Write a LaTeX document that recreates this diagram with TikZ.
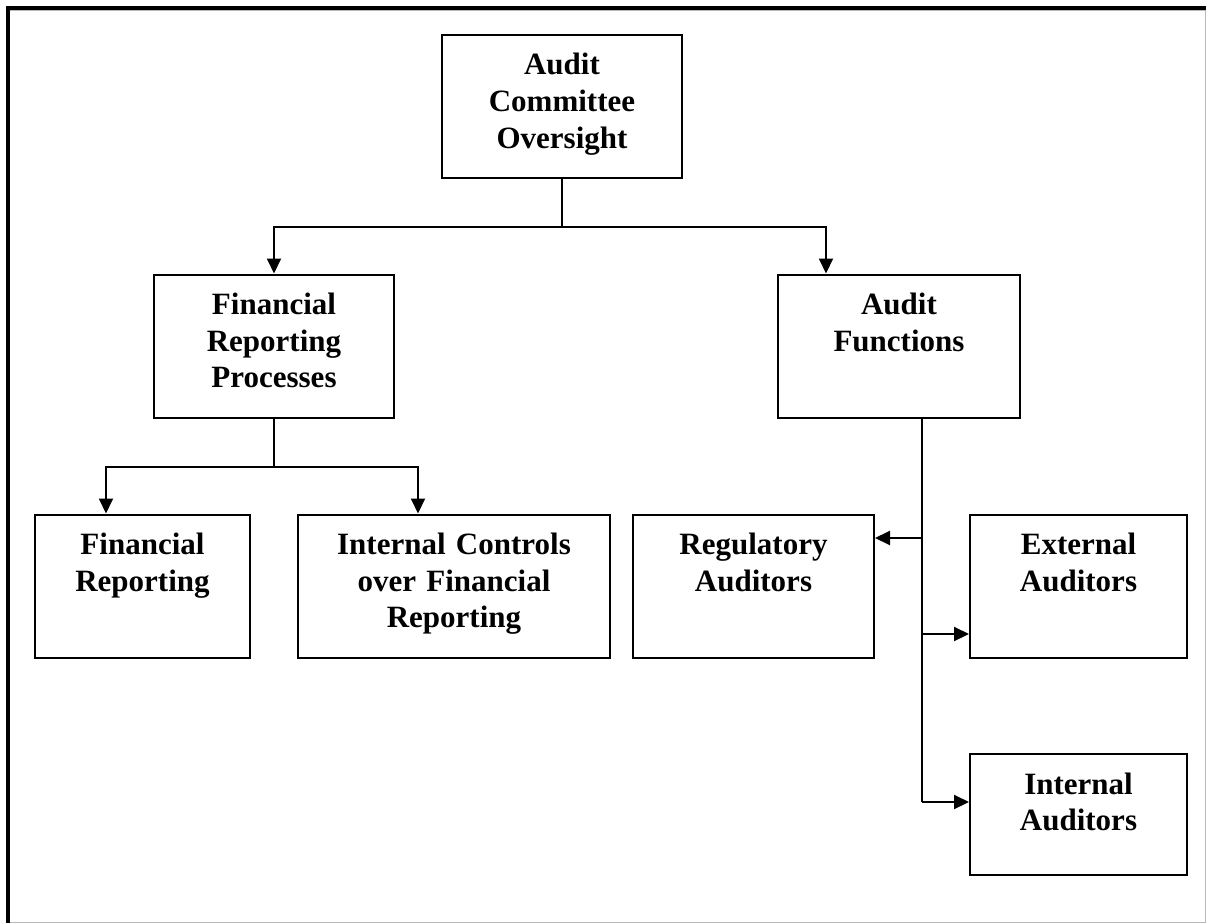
\documentclass[tikz,border=0pt]{standalone}
\usepackage{fontspec}
\setmainfont{Liberation Serif}
\usetikzlibrary{arrows.meta}
\tikzset{
  box/.style={draw,line width=2pt,align=center,inner sep=0pt,
    text height=40pt,text depth=103pt,
    font=\fontsize{31}{36.6}\selectfont\bfseries},
  shortbox/.style={box,text depth=81pt},
  link/.style={line width=2pt},
  arr/.style={line width=2pt,-{Triangle[length=15pt,width=14pt]}}
}

\begin{document}
\begin{tikzpicture}[x=1pt,y=-1pt]
\useasboundingbox (0,0) rectangle (1212,923);
% frame
\draw[gray!55,line width=1pt] (8,10.5) -- (1205,10.5) -- (1205,922) -- (8,922);
\draw[line width=4pt] (8,922.5) -- (8,8) -- (1205.5,8);

\node[box,text width=240pt] (aco) at (562,106.5) {Audit\\Committee\\Oversight};
\node[box,text width=240pt] (frp) at (274,346) {Financial\\Reporting\\Processes};
\node[box,text width=242pt] (af) at (899,346) {Audit\\Functions};
\node[box,text width=215pt] (fr) at (142.5,586) {Financial\\Reporting};
\node[box,text width=312pt] (icfr) at (454,586) {Internal Controls\\over Financial\\Reporting};
\node[box,text width=241pt] (ra) at (753.5,586) {Regulatory\\Auditors};
\node[box,text width=217pt] (ea) at (1078.5,586) {External\\Auditors};
\node[shortbox,text width=217pt] (ia) at (1078.5,814.5) {Internal\\Auditors};

\coordinate (j1) at (562,227);
\coordinate (j2) at (274,467);
\coordinate (tr) at (922,538);
\coordinate (te) at (922,634);
\coordinate (ti) at (922,802);

\draw[link] (aco.south) -- (j1);
\draw[arr] (j1) -| (frp.north);
\draw[arr] (j1) -| ([xshift=-73pt]af.north);

\draw[link] (frp.south) -- (j2);
\draw[arr] (j2) -| ([xshift=-36.5pt]fr.north);
\draw[arr] (j2) -| ([xshift=-36pt]icfr.north);

\draw[link] ([xshift=23pt]af.south) -- (ti);
\draw[arr] (tr) -- (ra.east |- tr);
\draw[arr] (te) -- (ea.west |- te);
\draw[arr] (ti) -- (ia.west |- ti);
\end{tikzpicture}
\end{document}
